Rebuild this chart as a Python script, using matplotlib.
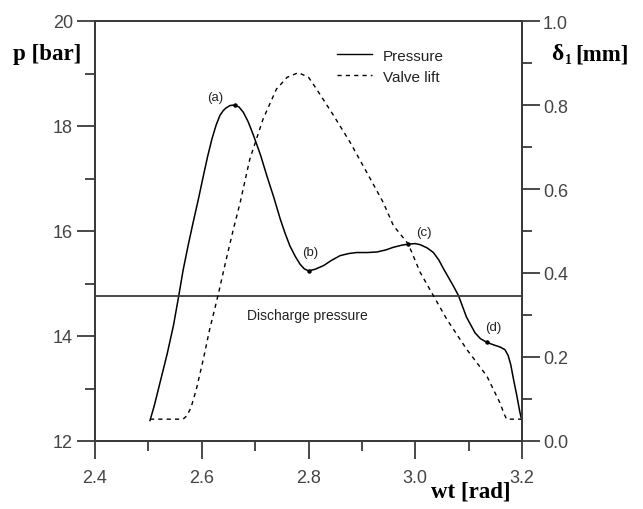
import matplotlib
matplotlib.use("Agg")
import matplotlib.pyplot as plt
from matplotlib.lines import Line2D
from matplotlib.ticker import MultipleLocator

# ---- data ----
wt_p = [2.503, 2.511, 2.522, 2.535, 2.547, 2.557, 2.565, 2.575, 2.584, 2.594, 2.603,
        2.611, 2.619, 2.627, 2.634, 2.640, 2.645, 2.653, 2.662, 2.670, 2.678, 2.687,
        2.697, 2.710, 2.722, 2.735, 2.747, 2.756, 2.765, 2.775, 2.784, 2.792, 2.800,
        2.812, 2.828, 2.843, 2.859, 2.875, 2.890, 2.910, 2.928, 2.945, 2.959, 2.975,
        2.987, 3.000, 3.009, 3.022, 3.034, 3.044, 3.053, 3.062, 3.071, 3.081, 3.096,
        3.112, 3.122, 3.134, 3.147, 3.159, 3.168, 3.174, 3.179, 3.184, 3.190, 3.196, 3.199]
pressure = [12.39, 12.67, 13.12, 13.65, 14.20, 14.77, 15.25, 15.75, 16.17, 16.62, 17.05,
            17.42, 17.75, 18.02, 18.20, 18.29, 18.34, 18.39, 18.40, 18.36, 18.26, 18.08,
            17.82, 17.45, 17.05, 16.64, 16.23, 15.96, 15.72, 15.52, 15.37, 15.28, 15.24,
            15.27, 15.34, 15.44, 15.53, 15.57, 15.59, 15.59, 15.60, 15.64, 15.69, 15.73,
            15.75, 15.76, 15.74, 15.68, 15.59, 15.45, 15.28, 15.12, 14.96, 14.77, 14.36,
            14.06, 13.95, 13.88, 13.83, 13.79, 13.74, 13.63, 13.45, 13.18, 12.88, 12.55, 12.42]

wt_v = [2.503, 2.565, 2.572, 2.580, 2.590, 2.603, 2.615, 2.625, 2.632, 2.640, 2.650,
        2.660, 2.672, 2.690, 2.715, 2.740, 2.760, 2.781, 2.800, 2.815, 2.847, 2.878,
        2.909, 2.940, 2.959, 2.987, 3.009, 3.034, 3.059, 3.096, 3.134, 3.159, 3.166,
        3.171, 3.199]
lift = [0.052, 0.052, 0.060, 0.080, 0.124, 0.195, 0.267, 0.318, 0.355, 0.400, 0.455,
        0.508, 0.568, 0.671, 0.767, 0.838, 0.866, 0.877, 0.866, 0.838, 0.775, 0.711,
        0.640, 0.568, 0.513, 0.469, 0.402, 0.346, 0.290, 0.219, 0.155, 0.090, 0.066,
        0.052, 0.052]

discharge_pressure = 14.77
point_labels = ["(a)", "(b)", "(c)", "(d)"]
point_wt = [2.662, 2.800, 2.987, 3.134]
point_p = [18.40, 15.24, 15.75, 13.88]

x_ticks = [2.4, 2.6, 2.8, 3.0, 3.2]
x_ticklabels = ["2.4", "2.6", "2.8", "3.0", "3.2"]
p_ticks = [12, 14, 16, 18, 20]
lift_ticks = [0.0, 0.2, 0.4, 0.6, 0.8, 1.0]

# ---- figure ----
W, H = 643, 510
fig = plt.figure(figsize=(W / 100, H / 100), dpi=100)
fig.patch.set_facecolor("white")
L, R, T, B = 95, 522, 22, 442
ax = fig.add_axes([L / W, 1 - B / H, (R - L) / W, (B - T) / H])
ax2 = ax.twinx()

gray = "#3a3a3a"
tickfont = "Liberation Sans"

ax.plot(wt_p, pressure, color="black", lw=1.1, solid_joinstyle="round")
ax.plot(point_wt, point_p, "o", color="black", ms=2.2, zorder=3)
ax.axhline(discharge_pressure, color=gray, lw=1.3)
ax2.plot(wt_v, lift, color="black", lw=1.0, linestyle=(0, (3, 3)))

ax.set_xlim(2.4, 3.2)
ax.set_ylim(12, 20)
ax2.set_ylim(0, 1.0)

ax.set_xticks(x_ticks)
ax.set_xticklabels(x_ticklabels)
ax.set_yticks(p_ticks)
ax.set_yticklabels([str(v) for v in p_ticks])
ax2.set_yticks(lift_ticks)
ax2.set_yticklabels([f"{v:.1f}" for v in lift_ticks])
ax.xaxis.set_minor_locator(MultipleLocator(0.1))
ax.yaxis.set_minor_locator(MultipleLocator(1))
ax2.yaxis.set_minor_locator(MultipleLocator(0.1))

for a in (ax, ax2):
    for s in a.spines.values():
        s.set_color(gray)
        s.set_linewidth(1.3)
    a.tick_params(which="major", length=13, width=1.3, color=gray, direction="out",
                  labelsize=13, labelcolor="#444444", pad=3)
    a.tick_params(which="minor", length=7, width=1.3, color=gray, direction="out")
    for lab in a.get_xticklabels() + a.get_yticklabels():
        lab.set_fontfamily(tickfont)
ax.tick_params(axis="x", which="major", pad=7)
ax2.tick_params(axis="y", which="major", pad=2)

# annotations
ann_xy = [(215, 98), (310, 253), (424, 233), (493, 328)]
for lab, (px, py) in zip(point_labels, ann_xy):
    fig.text(px / W, 1 - py / H, lab, ha="center", va="center", fontsize=9.5,
             family=tickfont, color="#222222")

fig.text(307 / W, 1 - 316 / H, "Discharge pressure", ha="center", va="center",
         fontsize=10, family=tickfont, color="#222222")

# legend
handles = [Line2D([], [], color="black", lw=1.0),
           Line2D([], [], color="black", lw=1.0, linestyle=(0, (3, 3)))]
leg = ax2.legend(handles, ["Pressure", "Valve lift"], loc="upper left",
                 bbox_to_anchor=((323 - L) / (R - L), (B - 36) / (B - T)),
                 frameon=False, handlelength=2.3, handletextpad=0.7,
                 labelspacing=0.45, prop={"family": tickfont, "size": 11})
for t in leg.get_texts():
    t.set_color("#222222")

# axis labels (bold serif)
serif = "Liberation Serif"
fig.text(13 / W, 1 - 60 / H, "p [bar]", ha="left", va="baseline", fontsize=16.5,
         family=serif, weight="bold")
fig.text(551 / W, 1 - 60 / H, "δ", ha="left", va="baseline", fontsize=17,
         family=serif, weight="bold")
fig.text(565 / W, 1 - 64 / H, "1", ha="left", va="baseline", fontsize=10,
         family=serif, weight="bold")
fig.text(575 / W, 1 - 60 / H, "[mm]", ha="left", va="baseline", fontsize=16.5,
         family=serif, weight="bold")
fig.text(431 / W, 1 - 498 / H, "wt [rad]", ha="left", va="baseline", fontsize=16.5,
         family=serif, weight="bold")

fig.savefig("out.png", dpi=100, facecolor="white")
